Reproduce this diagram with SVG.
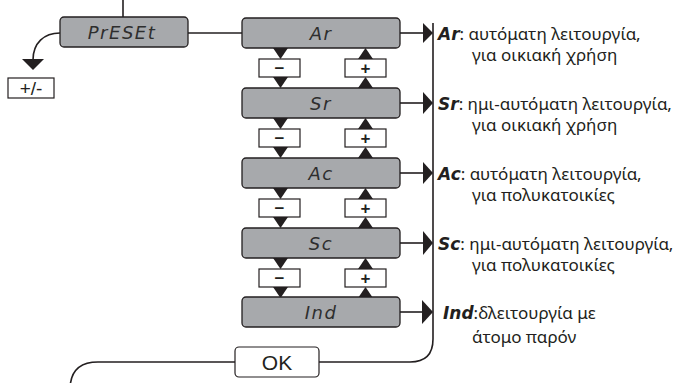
<svg xmlns="http://www.w3.org/2000/svg" width="677" height="383" viewBox="0 0 677 383">
<defs>
<style>
.node{fill:#a7a9ac;stroke:#231f20;stroke-width:1.3}
.btn{fill:#fff;stroke:#231f20;stroke-width:1.2}
.line{fill:none;stroke:#231f20;stroke-width:1.6}
.tri{fill:#231f20}
.seg{font-family:"DejaVu Sans",sans-serif;font-style:italic;font-size:18px;fill:#2e2e2e;text-anchor:middle;letter-spacing:1.5px}
.lbl{font-family:"DejaVu Sans",sans-serif;font-style:italic;font-weight:bold;font-size:17px}
.gr{font-family:"Noto Sans","Open Sans",sans-serif;font-size:17px;fill:#231f20}
.sym{font-family:"Liberation Sans",sans-serif;font-size:17px;font-weight:bold;fill:#231f20;text-anchor:middle}
.ok{font-family:"Liberation Sans",sans-serif;font-size:21px;fill:#231f20;text-anchor:middle}
</style>
</defs>
<g id="connectors">
<path class="line" d="M123,0 V17"/>
<path class="line" d="M188,33 H242"/>
<path class="line" d="M60,33 C44,33 33,43 33,60"/>
<polygon class="tri" points="22,59 44,59 33,70"/>
<path class="line" d="M400,33 H424"/>
<path class="line" d="M400,103 H424"/>
<path class="line" d="M400,173 H424"/>
<path class="line" d="M400,243 H424"/>
<path class="line" d="M400,312 H424"/>
<polygon class="tri" points="423,23 433,33 423,43"/>
<polygon class="tri" points="423,92 433,103 423,114"/>
<polygon class="tri" points="423,162 433,173 423,184"/>
<polygon class="tri" points="423,231 433,243 423,255"/>
<polygon class="tri" points="422,300 433,312 422,324"/>
<path class="line" d="M433,23 V339 Q433,362 410,362 H319"/>
<path class="line" d="M235,362 H98 Q70,362 70,390"/>
<polygon class="tri" points="273,48 288,48 280.5,59"/>
<polygon class="tri" points="273,77 288,77 280.5,88"/>
<polygon class="tri" points="358,59 373,59 365.5,48"/>
<polygon class="tri" points="358,88 373,88 365.5,77"/>
<polygon class="tri" points="273,118 288,118 280.5,129"/>
<polygon class="tri" points="273,147 288,147 280.5,158"/>
<polygon class="tri" points="358,129 373,129 365.5,118"/>
<polygon class="tri" points="358,158 373,158 365.5,147"/>
<polygon class="tri" points="273,188 288,188 280.5,199"/>
<polygon class="tri" points="273,217 288,217 280.5,228"/>
<polygon class="tri" points="358,199 373,199 365.5,188"/>
<polygon class="tri" points="358,228 373,228 365.5,217"/>
<polygon class="tri" points="273,258 288,258 280.5,269"/>
<polygon class="tri" points="273,287 288,287 280.5,298"/>
<polygon class="tri" points="358,269 373,269 365.5,258"/>
<polygon class="tri" points="358,298 373,298 365.5,287"/>
</g>
<g id="preset"><rect class="node" x="60" y="17" width="128" height="30" rx="4"/><text class="seg" x="122" y="39" letter-spacing="2">PrESEt</text></g>
<g id="plusminus"><rect class="btn" x="8" y="78" width="46" height="20"/><text x="31" y="95" font-family="Liberation Sans,sans-serif" font-size="19" fill="#231f20" text-anchor="middle">+/-</text></g>
<g id="node-ar"><rect class="node" x="242" y="18" width="158" height="30" rx="4"/><text class="seg" x="321" y="40">Ar</text></g>
<g id="node-sr"><rect class="node" x="242" y="88" width="158" height="30" rx="4"/><text class="seg" x="321" y="110">Sr</text></g>
<g id="node-ac"><rect class="node" x="242" y="158" width="158" height="30" rx="4"/><text class="seg" x="321" y="180">Ac</text></g>
<g id="node-sc"><rect class="node" x="242" y="228" width="158" height="30" rx="4"/><text class="seg" x="321" y="250">Sc</text></g>
<g id="node-ind"><rect class="node" x="242" y="297" width="158" height="30" rx="4"/><text class="seg" x="321" y="319">Ind</text></g>
<g id="btn-minus-1"><rect class="btn" x="259" y="59" width="41" height="18"/><text class="sym" x="279.5" y="74">−</text></g>
<g id="btn-plus-1"><rect class="btn" x="345" y="59" width="41" height="18"/><text class="sym" x="365.5" y="74">+</text></g>
<g id="btn-minus-2"><rect class="btn" x="259" y="129" width="41" height="18"/><text class="sym" x="279.5" y="144">−</text></g>
<g id="btn-plus-2"><rect class="btn" x="345" y="129" width="41" height="18"/><text class="sym" x="365.5" y="144">+</text></g>
<g id="btn-minus-3"><rect class="btn" x="259" y="199" width="41" height="18"/><text class="sym" x="279.5" y="214">−</text></g>
<g id="btn-plus-3"><rect class="btn" x="345" y="199" width="41" height="18"/><text class="sym" x="365.5" y="214">+</text></g>
<g id="btn-minus-4"><rect class="btn" x="259" y="269" width="41" height="18"/><text class="sym" x="279.5" y="284">−</text></g>
<g id="btn-plus-4"><rect class="btn" x="345" y="269" width="41" height="18"/><text class="sym" x="365.5" y="284">+</text></g>
<g id="ok"><rect class="btn" x="235" y="347" width="84" height="30" rx="4"/><text class="ok" x="277" y="370">OK</text></g>
<g id="desc-ar"><text class="gr" x="438" y="40"><tspan class="lbl">Ar</tspan>: αυτόματη λειτουργία,</text><text class="gr" x="472" y="61">για οικιακή χρήση</text></g>
<g id="desc-sr"><text class="gr" x="438" y="110"><tspan class="lbl">Sr</tspan>: ημι-αυτόματη λειτουργία,</text><text class="gr" x="472" y="131">για οικιακή χρήση</text></g>
<g id="desc-ac"><text class="gr" x="438" y="180"><tspan class="lbl">Ac</tspan>: αυτόματη λειτουργία,</text><text class="gr" x="472" y="201">για πολυκατοικίες</text></g>
<g id="desc-sc"><text class="gr" x="438" y="250"><tspan class="lbl">Sc</tspan>: ημι-αυτόματη λειτουργία,</text><text class="gr" x="472" y="271">για πολυκατοικίες</text></g>
<g id="desc-ind"><text class="gr" x="443" y="319"><tspan class="lbl">Ind</tspan>:δλειτουργία με</text><text class="gr" x="472" y="343">άτομο παρόν</text></g>
</svg>
